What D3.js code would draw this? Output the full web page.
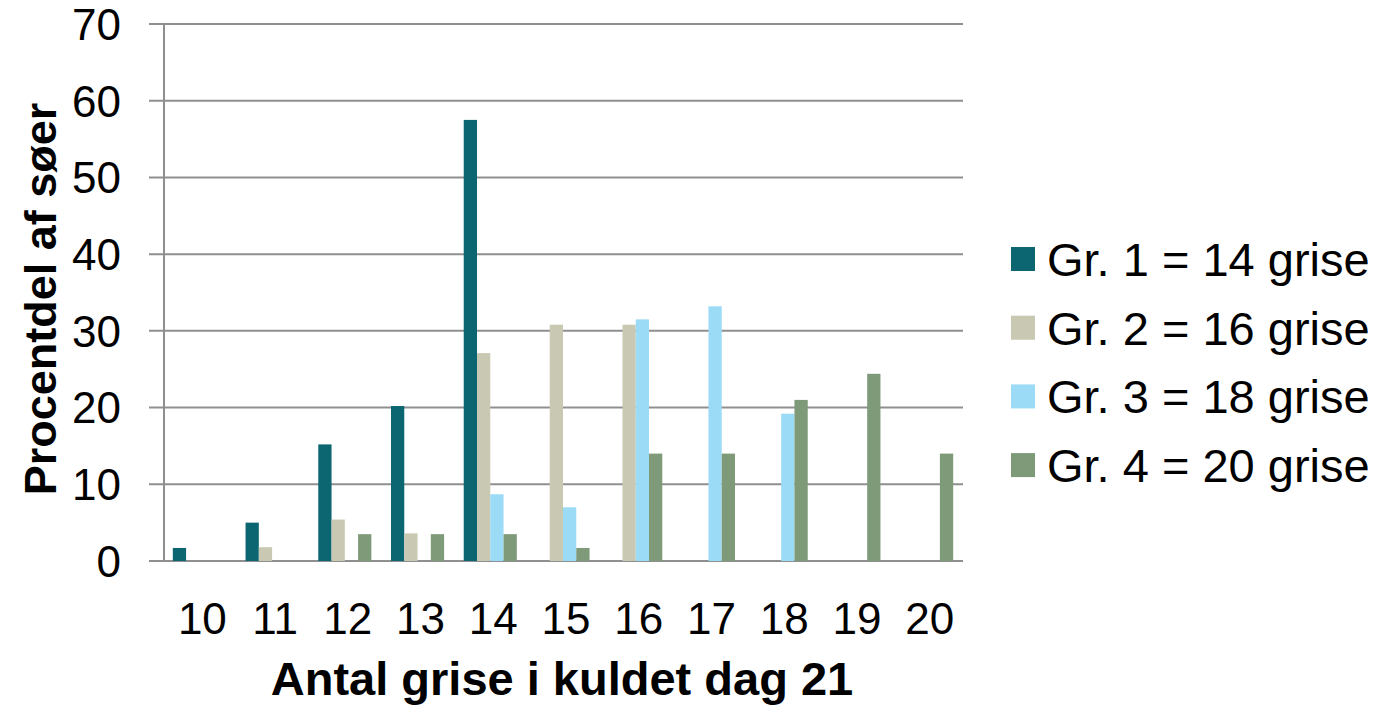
<!DOCTYPE html>
<meta charset="utf-8">
<style>
body { margin: 0; background: #fff; }
text { font-family: "Liberation Sans", Arial, sans-serif; fill: #000; }
</style>
<svg width="1382" height="707"></svg>
<script src="https://d3js.org/d3.v7.min.js"></script>
<script>
	var categories = ["10", "11", "12", "13", "14", "15", "16", "17", "18", "19", "20"];
	var seriesNames = ["Gr. 1 = 14 grise", "Gr. 2 = 16 grise", "Gr. 3 = 18 grise", "Gr. 4 = 20 grise"];
	var gr1 = [1.7, 5.0, 15.2, 20.2, 57.5, 0, 0, 0, 0, 0, 0];
	var gr2 = [0, 1.8, 5.4, 3.6, 27.1, 30.8, 30.8, 0, 0, 0, 0];
	var gr3 = [0, 0, 0, 0, 8.7, 7.0, 31.5, 33.2, 19.2, 0, 0];
	var gr4 = [0, 0, 3.5, 3.5, 3.5, 1.7, 14.0, 14.0, 21.0, 24.4, 14.0];
	var yTicks = [0, 10, 20, 30, 40, 50, 60, 70];
	var colors = ["#0b6672", "#c8c8b3", "#9cdbf6", "#7f9a78"];

	var seriesValues = [gr1, gr2, gr3, gr4];
	var svg = d3.select("svg");
	var plotLeft = 163, plotRight = 963, plotTop = 24, plotBottom = 561;

	var x = d3.scaleBand().domain(categories).range([plotLeft, plotRight]).padding(0);
	var bw = x.bandwidth();
	var x1 = d3.scaleBand().domain(d3.range(4)).range([bw * 0.135, bw * 0.865]).padding(0);
	var y = d3.scaleLinear().domain([0, 70]).range([plotBottom, plotTop]);

	// gridlines
	svg.append("g").selectAll("line")
		.data(yTicks)
		.enter().append("line")
		.attr("x1", 149)
		.attr("x2", plotRight)
		.attr("y1", function(d) { return y(d); })
		.attr("y2", function(d) { return y(d); })
		.style("stroke", "#8f8f8f")
		.style("stroke-width", 2);

	// y axis line
	svg.append("line")
		.attr("x1", 164).attr("x2", 164)
		.attr("y1", y(70)).attr("y2", y(0))
		.style("stroke", "#8f8f8f")
		.style("stroke-width", 2);

	// bars
	var groups = svg.append("g").selectAll("g")
		.data(seriesValues)
		.enter().append("g")
		.style("fill", function(d, i) { return colors[i]; });

	groups.each(function(vals, si) {
		d3.select(this).selectAll("rect")
			.data(vals.map(function(v, ci) { return { c: categories[ci], v: v }; }).filter(function(d) { return d.v > 0; }))
			.enter().append("rect")
			.attr("x", function(d) { return x(d.c) + x1(si); })
			.attr("width", x1.bandwidth())
			.attr("y", function(d) { return y(d.v); })
			.attr("height", function(d) { return y(0) - y(d.v); });
	});

	// y tick labels
	svg.append("g").selectAll("text")
		.data(yTicks)
		.enter().append("text")
		.attr("x", 121)
		.attr("y", function(d) { return y(d); })
		.attr("dy", "0.36em")
		.style("text-anchor", "end")
		.style("font-size", "44px")
		.text(function(d) { return d; });

	// x tick labels
	svg.append("g").selectAll("text")
		.data(categories)
		.enter().append("text")
		.attr("x", function(d) { return x(d) + bw / 2 + 3; })
		.attr("y", 634)
		.style("text-anchor", "middle")
		.style("font-size", "44px")
		.text(function(d) { return d; });

	// axis titles
	svg.append("text")
		.attr("x", 562)
		.attr("y", 695)
		.style("text-anchor", "middle")
		.style("font-size", "47px")
		.style("font-weight", "bold")
		.text("Antal grise i kuldet dag 21");

	svg.append("text")
		.attr("transform", "translate(56,299) rotate(-90)")
		.style("text-anchor", "middle")
		.style("font-size", "45px")
		.style("font-weight", "bold")
		.text("Procentdel af søer");

	// legend
	var legend = svg.append("g").selectAll("g")
		.data(seriesNames)
		.enter().append("g")
		.attr("transform", function(d, i) { return "translate(1011," + (259 + i * 68.7) + ")"; });

	legend.append("rect")
		.attr("x", 0)
		.attr("y", -12)
		.attr("width", 24)
		.attr("height", 24)
		.style("fill", function(d, i) { return colors[i]; });

	legend.append("text")
		.attr("x", 36)
		.attr("dy", "0.36em")
		.style("font-size", "47px")
		.text(function(d) { return d; });
</script>
